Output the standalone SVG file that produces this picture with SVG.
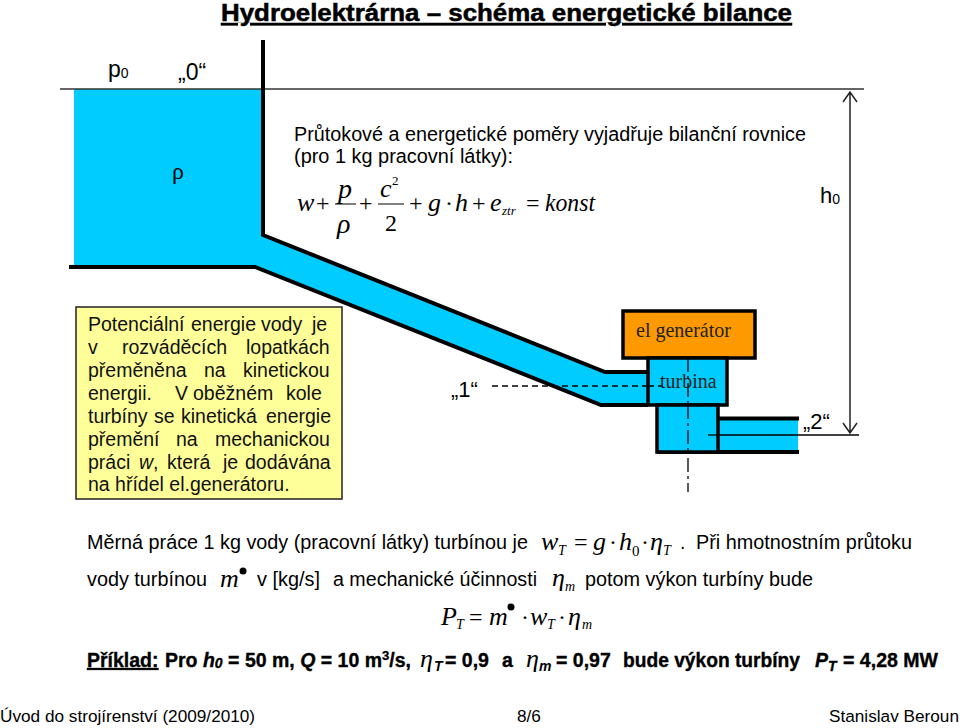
<svg xmlns="http://www.w3.org/2000/svg" width="960" height="728" viewBox="0 0 960 728">
<style>
text{font-family:"Liberation Sans",Arial,sans-serif;fill:#000;white-space:pre}
.t{font-size:19.300px}
.k{font-size:19.500px;fill:#111}
.b{font-size:19.500px;font-weight:bold;stroke:#000;stroke-width:.35px}
.m{font-family:"Liberation Serif","Times New Roman",serif;font-style:italic;font-size:26px}
.big{font-size:28px}
.mr{font-family:"Liberation Serif","Times New Roman",serif;font-size:24px}
.sub{font-style:italic;font-size:14px}
.sb{font-family:"Liberation Sans",Arial,sans-serif;font-style:italic;font-weight:bold;font-size:14px}
.w{fill:#00ccff}
.h{stroke:#000;stroke-width:4;fill:none}
.n{stroke:#333;stroke-width:1.500;fill:none}
.f{font-family:"Liberation Serif","Times New Roman",serif;font-size:20px;fill:#222}
.dd{stroke:#000;stroke-width:1.300;stroke-dasharray:14 4 3 4;fill:none}
.d{stroke:#000;stroke-width:1.300;stroke-dasharray:6 4;fill:none}
.l{stroke:#000;stroke-width:1.300;fill:none}
</style>
<rect width="960" height="728" fill="#fff"/>
<g id="water">
<polygon class="w" points="74,89 263,89 263,235 605,371 648,371 648,405 601,405 255,267 74,267"/>
<rect class="w" x="718" y="418" width="80" height="34"/>
</g>
<g id="title"><text x="221" y="21" font-size="23" font-weight="bold" stroke="#000" stroke-width=".5" text-decoration="underline" textLength="571" lengthAdjust="spacingAndGlyphs">Hydroelektrárna – schéma energetické bilance</text></g>
<g id="labels-top">
<text x="108" y="77" font-size="23">p<tspan font-size="14" dy="1">0</tspan></text>
<text x="178" y="80" font-size="23">„0“</text>
<text class="mr" x="172" y="179">ρ</text>
<text x="820" y="203" font-size="22">h<tspan font-size="14" dy="1">0</tspan></text>
</g>
<g id="equation-text">
<text x="294" y="141" font-size="19.400" textLength="512" lengthAdjust="spacingAndGlyphs">Průtokové a energetické poměry vyjadřuje bilanční rovnice</text>
<text x="294" y="163" font-size="19.400" textLength="219" lengthAdjust="spacingAndGlyphs">(pro 1 kg pracovní látky):</text>
<text class="m" x="297" y="211">w</text><text class="mr" x="316" y="211">+</text>
<text class="m big" x="338" y="198">p</text><text class="m big" x="337" y="233">ρ</text>
<text class="mr" x="359" y="211">+</text>
<text class="m" x="380" y="197">c</text><text class="mr" x="392" y="185" style="font-size:13px">2</text><text class="mr" x="385" y="231">2</text>
<text class="mr" x="409" y="211">+</text>
<text class="m" x="428" y="211">g</text><text class="mr" x="445" y="211">·</text><text class="m" x="455" y="211">h</text>
<text class="mr" x="472" y="211">+</text>
<text class="m" x="490" y="211">e<tspan class="sub" x="502" y="215" style="font-size:13px">ztr</tspan></text>
<text class="mr" x="526" y="211">=</text><text class="m" x="545" y="211" textLength="50" lengthAdjust="spacingAndGlyphs">konst</text>
</g>
<g id="connectors">
<line class="n" x1="60" y1="89" x2="864" y2="89"/>
<path d="M335 204H356M378 204H404" stroke="#000" stroke-width="1" fill="none"/>
<path class="h" d="M263 40V235L605 372H648"/>
<path class="h" d="M69 267H255L601 405H648"/>
<path class="h" d="M718 418.500H799M657 452H799"/>
<path class="d" d="M492 386H663"/>
<path class="dd" d="M688 358V492"/>
<path class="l" d="M708 435H859"/>
<path d="M850 92V433M843 102L850 92L857 102M843 423L850 433L857 423" stroke="#222" stroke-width="1.500" fill="none"/>
</g>
<g id="generator"><rect x="623" y="311" width="132" height="47" fill="#ff9900" stroke="#000" stroke-width="3.500"/><text class="f" x="636" y="337">el generátor</text></g>
<g id="turbine"><rect class="w" x="648" y="358" width="79" height="47" stroke="#000" stroke-width="3.500"/><path class="dd" d="M688 358V405"/><path class="d" d="M648 386H663"/><text class="f" x="660" y="388">turbina</text></g>
<g id="draft"><rect class="w" x="657" y="405" width="61" height="47" stroke="#000" stroke-width="3.500"/><path class="dd" d="M688 405V452"/><path class="l" d="M708 435H718"/></g>
<g id="points"><text x="451" y="397" font-size="22">„1“</text><text x="803" y="429" font-size="22">„2“</text></g>
<g id="note">
<rect x="76" y="307" width="266" height="192" fill="#ffff99" stroke="#222" stroke-width="1.500"/>
<text class="k" y="331"><tspan x="88">Potenciální</tspan><tspan x="191">energie</tspan><tspan x="261">vody</tspan><tspan x="312">je</tspan></text>
<text class="k" y="354"><tspan x="88">v</tspan><tspan x="122">rozváděcích</tspan><tspan x="246">lopatkách</tspan></text>
<text class="k" y="377"><tspan x="88">přeměněna</tspan><tspan x="204">na</tspan><tspan x="243">kinetickou</tspan></text>
<text class="k" y="400"><tspan x="88">energii.</tspan><tspan x="175">V</tspan><tspan x="193">oběžném</tspan><tspan x="286">kole</tspan></text>
<text class="k" y="423"><tspan x="88">turbíny</tspan><tspan x="154">se</tspan><tspan x="181">kinetická</tspan><tspan x="266">energie</tspan></text>
<text class="k" y="446"><tspan x="88">přemění</tspan><tspan x="176">na</tspan><tspan x="215">mechanickou</tspan></text>
<text class="k" y="469"><tspan x="88">práci</tspan><tspan x="139" font-style="italic">w</tspan>,<tspan x="167">která</tspan><tspan x="223">je</tspan><tspan x="245">dodávána</tspan></text>
<text class="k" x="88" y="491">na hřídel el.generátoru.</text>
</g>
<g id="body">
<text class="t" x="87" y="549" textLength="441" lengthAdjust="spacingAndGlyphs">Měrná práce 1 kg vody (pracovní látky) turbínou je</text>
<text class="m" x="541" y="550">w<tspan class="sub" x="558" y="555">T</tspan></text><text class="mr" x="574" y="550">=</text><text class="m" x="593" y="550">g</text><text class="mr" x="609" y="550">·</text><text class="m" x="619" y="550">h</text><text class="mr" x="632" y="556" style="font-size:15px">0</text><text class="mr" x="641" y="550">·</text><text class="m" x="650" y="550">η<tspan class="sub" x="663" y="555">T</tspan></text>
<text class="t" x="680" y="549">.</text>
<text class="t" x="696" y="549" textLength="216" lengthAdjust="spacingAndGlyphs">Při hmotnostním průtoku</text>
<text class="t" x="87" y="586" textLength="120" lengthAdjust="spacingAndGlyphs">vody turbínou</text>
<text class="m" x="220" y="587">m</text><circle cx="243" cy="571" r="3.500"/>
<text class="t" x="257" y="586" textLength="63" lengthAdjust="spacingAndGlyphs">v [kg/s]</text>
<text class="t" x="333" y="586" textLength="204" lengthAdjust="spacingAndGlyphs">a mechanické účinnosti</text>
<text class="m" x="552" y="586">η<tspan class="sub" x="565" y="591">m</tspan></text>
<text class="t" x="585" y="586" textLength="228" lengthAdjust="spacingAndGlyphs">potom výkon turbíny bude</text>
<text class="m" x="441" y="625">P<tspan class="sub" x="456" y="629">T</tspan></text><text class="mr" x="469" y="625">=</text><text class="m" x="489" y="625">m</text><circle cx="511" cy="607" r="3.500"/><text class="mr" x="521" y="625">·</text><text class="m" x="530" y="625">w<tspan class="sub" x="547" y="629">T</tspan></text><text class="mr" x="558" y="625">·</text><text class="m" x="568" y="625">η<tspan class="sub" x="582" y="629">m</tspan></text>
</g>
<g id="example">
<text class="b" x="87" y="667" text-decoration="underline">Příklad:</text>
<text class="b" x="165" y="667">Pro <tspan font-style="italic">h</tspan><tspan font-style="italic" style="font-size:14px" dy="1">0</tspan><tspan dy="-1"> = 50 m, </tspan><tspan font-style="italic">Q</tspan> = 10 m<tspan style="font-size:13px" dy="-7">3</tspan><tspan dy="7">/s,</tspan></text>
<text class="m" x="420" y="667">η<tspan class="sb" x="434" y="671">T</tspan></text>
<text class="b" x="445" y="667">= 0,9<tspan x="502">a</tspan></text>
<text class="m" x="526" y="667">η<tspan class="sb" x="539" y="671">m</tspan></text>
<text class="b" x="556" y="667">= 0,97</text>
<text class="b" x="623" y="667" textLength="177" lengthAdjust="spacingAndGlyphs">bude výkon turbíny</text>
<text class="b" x="815" y="667" font-style="italic">P<tspan class="sb" x="828" y="671">T</tspan></text>
<text class="b" x="843" y="667" textLength="95" lengthAdjust="spacingAndGlyphs">= 4,28 MW</text>
</g>
<g id="footer">
<text x="0" y="722" font-size="17.200">Úvod do strojírenství (2009/2010)</text>
<text x="517" y="722" font-size="17.200">8/6</text>
<text x="829" y="722" font-size="17.200">Stanislav Beroun</text>
</g>
</svg>
